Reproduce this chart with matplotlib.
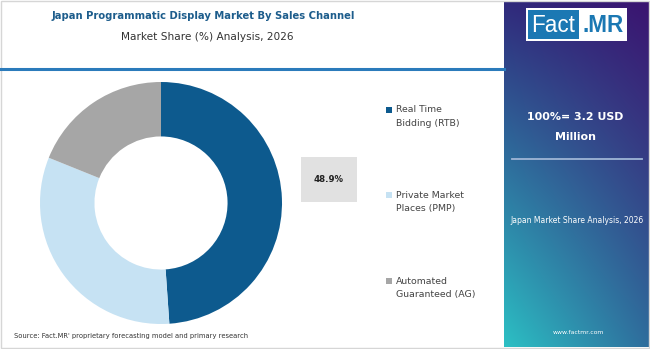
import numpy as np
import matplotlib
matplotlib.use("Agg")
import matplotlib.pyplot as plt
from matplotlib.patches import Rectangle
from matplotlib.colors import to_rgb

# ---- data ----
categories = ["Real Time Bidding (RTB)", "Private Market Places (PMP)", "Automated Guaranteed (AG)"]
legend_lines = [["Real Time", "Bidding (RTB)"],
                ["Private Market", "Places (PMP)"],
                ["Automated", "Guaranteed (AG)"]]
shares = [48.9, 32.2, 18.9]
colors = ["#0d5a8e", "#c6e2f3", "#a6a6a6"]
highlight_label = "48.9%"

title = "Japan Programmatic Display Market By Sales Channel"
subtitle = "Market Share (%) Analysis, 2026"
total_line1 = "100%= 3.2 USD"
total_line2 = "Million"
panel_caption = "Japan Market Share Analysis, 2026"
website = "www.factmr.com"
source = "Source: Fact.MR' proprietary forecasting model and primary research"

W, H = 650, 349
fig = plt.figure(figsize=(W / 100, H / 100), dpi=100)
fig.patch.set_facecolor("white")
renderer = fig.canvas.get_renderer()


def fx(x):
    return x / W


def fy(y):
    return 1 - y / H


def fit_size(s, width_px, base=10, **kw):
    t = fig.text(0, 0, s, fontsize=base, **kw)
    w = t.get_window_extent(renderer).width
    t.remove()
    return base * width_px / w


FONT = "DejaVu Sans"

# ---- header ----
ts = fit_size(title, 304, family=FONT, weight="bold")
fig.text(fx(203), fy(16), title, ha="center", va="center", fontsize=ts,
         family=FONT, weight="bold", color="#1d5d8c")
ss = fit_size(subtitle, 171, family=FONT)
fig.text(fx(207.5), fy(37), subtitle, ha="center", va="center", fontsize=ss,
         family=FONT, color="#333333")

# blue rule under the header
fig.add_artist(plt.Line2D([fx(0), fx(504)], [fy(69), fy(69)], color="#2b7bbb",
                          lw=2.2, transform=fig.transFigure))

# ---- donut ----
cx, cy, r = 161, 203, 121
ax = fig.add_axes([fx(cx - r), fy(cy + r), 2 * r / W, 2 * r / H])
ax.pie(shares, colors=colors, startangle=90, counterclock=False, radius=1,
       wedgeprops=dict(width=0.45, linewidth=0))
ax.set_xlim(-1, 1)
ax.set_ylim(-1, 1)
ax.set_aspect("auto")
ax.axis("off")

# highlighted value box
fig.add_artist(Rectangle((fx(301), fy(202)), fx(357) - fx(301), fy(157) - fy(202),
                         transform=fig.transFigure, facecolor="#e1e1e1", edgecolor="none"))
hs = fit_size(highlight_label, 30, family=FONT, weight="bold")
fig.text(fx(329), fy(179), highlight_label, ha="center", va="center", fontsize=hs,
         family=FONT, weight="bold", color="#222222")

# ---- legend ----
ls = fit_size("Guaranteed (AG)", 80, family=FONT)
rows = [(110, 123.5), (195, 209), (281, 294)]
for (y1, y2), lines, c in zip(rows, legend_lines, colors):
    fig.add_artist(Rectangle((fx(386), fy(y1 + 3)), 6 / W, 6 / H,
                             transform=fig.transFigure, facecolor=c, edgecolor="none"))
    fig.text(fx(396), fy(y1), lines[0], ha="left", va="center", fontsize=ls,
             family=FONT, color="#444444")
    fig.text(fx(396), fy(y2), lines[1], ha="left", va="center", fontsize=ls,
             family=FONT, color="#444444")

# ---- right gradient panel ----
px0, px1, py0, py1 = 504, 650, 2, 347
tl, tr = np.array(to_rgb("#302a7c")), np.array(to_rgb("#3b1470"))
bl, br = np.array(to_rgb("#2cc0c4")), np.array(to_rgb("#2f6c9c"))
ny, nx = 200, 100
u = np.linspace(0, 1, nx)[None, :, None]
v = np.linspace(0, 1, ny)[:, None, None]
grad = (1 - v) * ((1 - u) * tl + u * tr) + v * ((1 - u) * bl + u * br)
pax = fig.add_axes([fx(px0), fy(py1), (px1 - px0) / W, (py1 - py0) / H])
pax.imshow(grad, aspect="auto", extent=[0, 1, 0, 1], interpolation="bilinear")
pax.axis("off")

# logo
fig.add_artist(Rectangle((fx(526), fy(41)), (627 - 526) / W, (41 - 8) / H,
                         transform=fig.transFigure, facecolor="white", edgecolor="none"))
fig.add_artist(Rectangle((fx(528), fy(39)), (579 - 528) / W, (39 - 10) / H,
                         transform=fig.transFigure, facecolor="#1b78b3", edgecolor="none"))
LOGO = "Liberation Sans"
fs_logo = fit_size("Fact", 44, family=LOGO)
fig.text(fx(553.5), fy(25), "Fact", ha="center", va="center", fontsize=fs_logo,
         family=LOGO, color="white")
fig.text(fx(603), fy(25), ".MR", ha="center", va="center", fontsize=fs_logo,
         family=LOGO, color="#1b78b3", weight="bold")

bs = fit_size(total_line1, 96, family=FONT, weight="bold")
fig.text(fx(575), fy(117), total_line1, ha="center", va="center", fontsize=bs,
         family=FONT, weight="bold", color="white")
fig.text(fx(575), fy(137.5), total_line2, ha="center", va="center", fontsize=bs,
         family=FONT, weight="bold", color="white")
fig.add_artist(plt.Line2D([fx(512), fx(642)], [fy(159), fy(159)], color="#9fb6d6",
                          lw=1.3, transform=fig.transFigure))
cs = fit_size(panel_caption, 132, family=FONT)
fig.text(fx(577), fy(221), panel_caption, ha="center", va="center", fontsize=cs,
         family=FONT, color="white")
ws = fit_size(website, 51, family=FONT)
fig.text(fx(578), fy(332), website, ha="center", va="center", fontsize=ws,
         family=FONT, color="white")

# ---- source note ----
srs = fit_size(source, 235, family=FONT)
fig.text(fx(14), fy(336), source, ha="left", va="center", fontsize=srs,
         family=FONT, color="#333333")

# outer frame
fig.add_artist(Rectangle((0.0008, 0.0015), 0.9984, 0.997, transform=fig.transFigure,
                         facecolor="none", edgecolor="#d6d6d6", lw=1.0))

fig.savefig("out.png", dpi=100, facecolor="white")
